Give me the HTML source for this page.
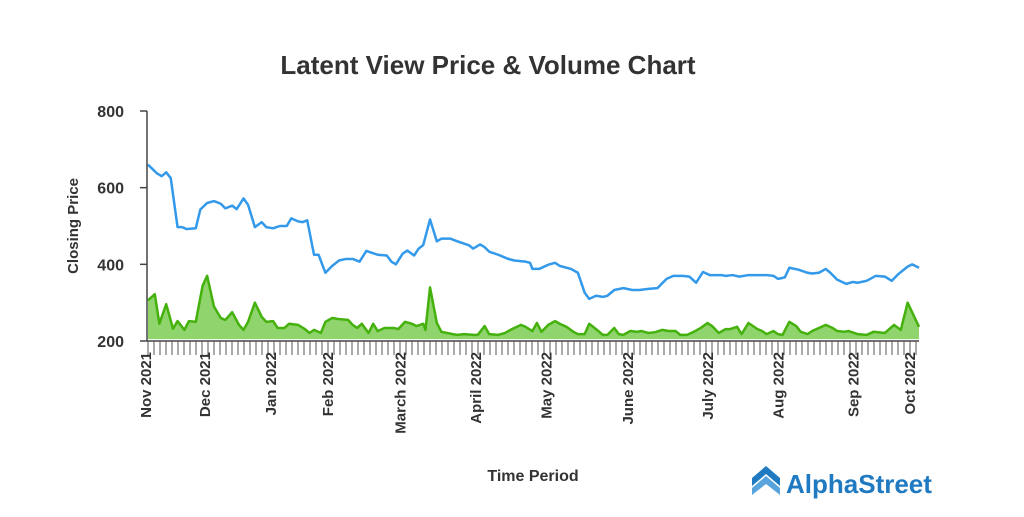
<!DOCTYPE html>
<html><head><meta charset="utf-8"><style>
body{margin:0;background:#fff;}
svg text{font-family:"Liberation Sans",sans-serif;}
</style></head><body>
<svg id="c" width="1024" height="512" xmlns="http://www.w3.org/2000/svg">
<text x="488" y="74" text-anchor="middle" font-size="26" font-weight="bold" fill="#333">Latent View Price &amp; Volume Chart</text>
<text transform="translate(78,226) rotate(-90)" text-anchor="middle" font-size="15" font-weight="bold" fill="#333">Closing Price</text>
<text x="533" y="481" text-anchor="middle" font-size="16" font-weight="bold" fill="#333">Time Period</text>
<g>
<polygon points="752,478 766,466 780,478 780,486 766,474 752,486" fill="#1f7ac1"/>
<polygon points="752,488 766,476 780,488 780,495 766,484 752,495" fill="#5aa4de"/>
<text x="786" y="493" font-size="26" font-weight="bold" fill="#1f7ac1">AlphaStreet</text>
</g>
<g id="plot"></g>
</svg>
<script>
const priceDays=[0,4,6,8,10,13,15,17,21,23,26,29,32,34,37,39,42,44,47,50,52,55,58,61,63,66,68,70,73,75,78,81,84,87,90,93,96,101,105,107,109,112,114,117,119,121,124,127,129,133,136,141,143,146,148,150,154,158,161,166,168,169,172,176,179,181,186,189,192,194,197,200,202,205,209,213,216,220,224,228,231,235,238,241,244,247,252,254,257,260,264,268,272,275,277,280,282,286,290,292,295,298,300,303,307,310,312,316,320,324,327,330,334,336,339];
const priceValues=[660,637,630,640,625,497,497,492,494,543,560,565,558,546,553,544,572,555,497,510,497,494,500,500,520,512,510,515,425,425,378,396,410,414,414,407,435,425,423,407,400,428,436,423,441,450,517,460,467,467,460,450,441,452,445,433,425,415,410,407,404,388,388,399,404,396,388,378,326,310,318,315,318,333,338,333,333,336,338,362,370,370,368,352,380,372,372,370,372,368,372,372,372,370,362,366,391,386,378,376,378,388,378,360,349,354,352,357,370,368,357,375,394,400,391];
const volDays=[0,3,5,8,11,13,16,18,21,24,26,29,32,34,37,40,42,44,47,50,52,55,57,60,62,66,69,71,73,76,78,81,84,88,90,92,94,97,99,101,104,108,110,113,116,118,121,122,124,127,129,134,136,139,143,145,148,150,154,157,160,164,166,169,171,173,176,179,181,184,187,189,192,194,197,200,202,205,207,209,212,215,217,220,223,226,229,232,234,237,240,243,246,248,251,254,256,259,261,264,268,270,272,275,277,279,282,285,287,290,292,295,298,301,303,306,308,312,316,319,324,328,331,334,339];
const volValues=[306,322,245,296,232,252,229,252,250,344,370,290,260,255,275,242,229,250,300,263,250,252,234,234,245,242,231,221,229,221,250,260,257,255,242,234,245,221,245,226,234,234,231,250,245,239,245,229,340,247,224,218,216,218,216,216,239,218,216,221,231,242,237,226,247,224,242,252,245,237,224,218,218,245,231,216,216,234,218,216,226,224,226,221,223,229,226,226,216,216,224,234,247,239,221,231,231,237,218,247,231,226,218,226,218,216,250,239,224,218,226,234,242,234,226,224,226,218,216,224,221,242,229,300,237];
const yTicks=[200,400,600,800];
const monthLabels=["Nov 2021","Dec 2021","Jan 2022","Feb 2022","March 2022","April 2022","May 2022","June 2022","July 2022","Aug 2022","Sep 2022","Oct 2022"];
const monthDays=[0,26,55,80,112,145,176,212,247,278,311,336];
const X0=148,X1=919,Y0=341,Y1=111,DMAX=339;
const xs=d=>X0+d*(X1-X0)/DMAX;
const ys=v=>Y0-(v-200)*(Y0-Y1)/600;
const NS="http://www.w3.org/2000/svg",g=document.getElementById('plot');
function mk(t,a){const e=document.createElementNS(NS,t);for(const k in a)e.setAttribute(k,a[k]);g.appendChild(e);return e;}
let area=`M${xs(volDays[0])},${ys(205)} `+volDays.map((d,i)=>`L${xs(d)},${ys(volValues[i])}`).join(' ')+` L${xs(volDays[volDays.length-1])},${ys(205)} Z`;
let a=mk('path',{d:area,fill:'#8fd46c'});


let vl=mk('path',{d:'M'+volDays.map((d,i)=>`${xs(d)},${ys(volValues[i])}`).join(' L'),fill:'none',stroke:'#45b10d','stroke-width':2.5,'stroke-linejoin':'round'});


let pl=mk('path',{d:'M'+priceDays.map((d,i)=>`${xs(d)},${ys(priceValues[i])}`).join(' L'),fill:'none',stroke:'#3399ea','stroke-width':2.5,'stroke-linejoin':'round'});


let ya=mk('line',{x1:147,y1:Y1,x2:147,y2:Y0,stroke:'#444','stroke-width':1.5});


let xa=mk('line',{x1:147,y1:Y0,x2:X1,y2:Y0,stroke:'#444','stroke-width':1.5});


yTicks.forEach(v=>{
 let t=mk('line',{x1:140,y1:ys(v),x2:147,y2:ys(v),stroke:'#444','stroke-width':1.5});
 
 
 let l=mk('text',{x:124,y:ys(v)+6,'text-anchor':'end','font-size':16,'font-weight':'bold',fill:'#333'});
 l.textContent=v;
 
 
});
for(let x=X0;x<=X1;x+=6){
 let t=mk('line',{x1:x,y1:Y0,x2:x,y2:355,stroke:'#555','stroke-width':1});
 
 
}
monthLabels.forEach((m,i)=>{
 const x=xs(monthDays[i])+3;
 let l=mk('text',{transform:`translate(${x},352) rotate(-90)`,'text-anchor':'end','font-size':15,'font-weight':'bold',fill:'#333'});
 l.textContent=m;
 
 
});
</script>
</body></html>
